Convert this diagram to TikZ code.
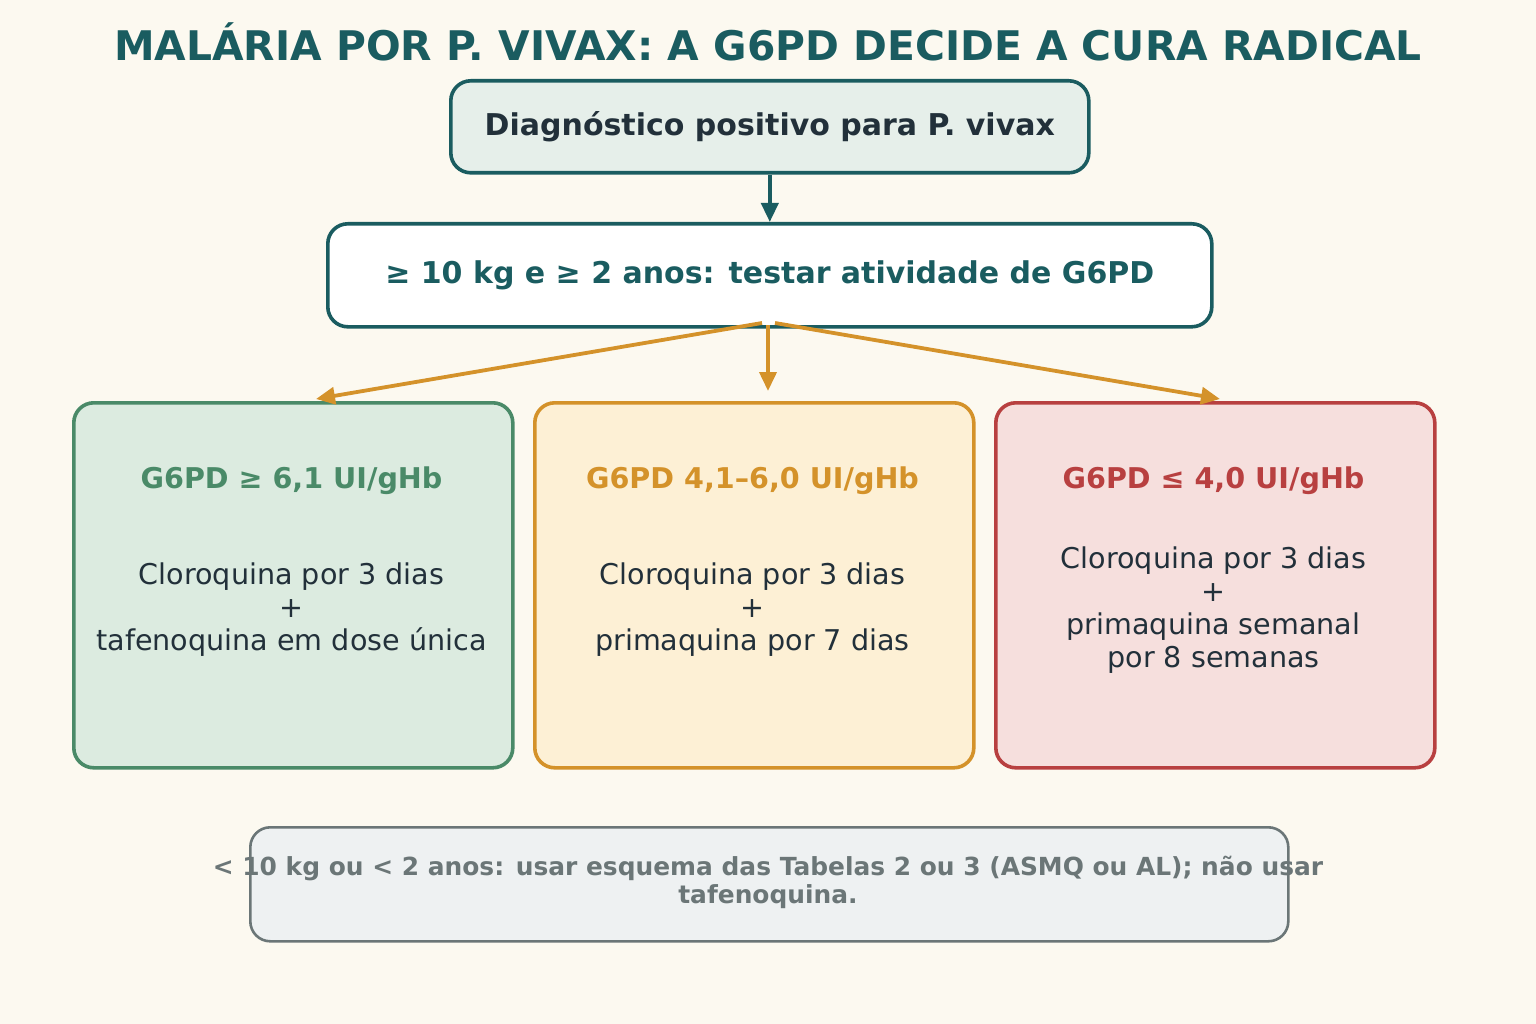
\documentclass[tikz,border=0pt]{standalone}
\usepackage{fontspec}
\setmainfont{DejaVu Sans}
\usetikzlibrary{arrows.meta}
\definecolor{bg}{HTML}{FCF9F0}
\definecolor{teal}{HTML}{1A5C60}
\definecolor{dark}{HTML}{22303A}
\definecolor{orng}{HTML}{D4922A}
\definecolor{grn}{HTML}{4A8A68}
\definecolor{red}{HTML}{B84040}
\definecolor{gry}{HTML}{6B7677}
\definecolor{f1}{HTML}{E6EFEA}
\definecolor{fA}{HTML}{DCEBE0}
\definecolor{fB}{HTML}{FDF0D5}
\definecolor{fC}{HTML}{F6DFDD}
\definecolor{fF}{HTML}{EEF1F2}
\tikzset{
  box/.style={rounded corners=20pt, line width=3.6pt, inner sep=0pt, anchor=north west},
  tarr/.style={line width=3.8pt, -{Triangle[length=19pt,width=17pt]}},
}
\begin{document}
\begin{tikzpicture}[x=1pt,y=-1pt]
\fill[bg] (0,0) rectangle (1536,1024);
\useasboundingbox (0,0) rectangle (1536,1024);
\node[font=\fontsize{40.8}{46}\selectfont\bfseries, text=teal] (title) at (768,42) {MALÁRIA POR P. VIVAX: A G6PD DECIDE A CURA RADICAL};
% box1
\node[box, draw=teal, fill=f1, minimum width=638pt, minimum height=92pt] (b1) at (449,79) {};
\node[font=\fontsize{30}{34}\selectfont\bfseries, text=dark] (t1) at (b1.center) {Diagnóstico positivo para P. vivax};
% box2
\node[box, draw=teal, fill=white, minimum width=884pt, minimum height=103pt] (b2) at (326,222) {};
\node[font=\fontsize{30}{34}\selectfont\bfseries, text=teal] (t2) at (b2.center) {≥ 10 kg e ≥ 2 anos: testar atividade de G6PD};
% three boxes
\node[box, draw=grn, fill=fA, minimum width=439pt, minimum height=365pt] (bA) at (72,401) {};
\node[box, draw=orng, fill=fB, minimum width=439pt, minimum height=365pt] (bB) at (533,401) {};
\node[box, draw=red, fill=fC, minimum width=439pt, minimum height=365pt] (bC) at (994,401) {};
\node[font=\fontsize{28.6}{33}\selectfont\bfseries, text=grn] (hA) at (291.5,481) {G6PD ≥ 6,1 UI/gHb};
\node[font=\fontsize{28.6}{33}\selectfont\bfseries, text=orng] (hB) at (752.5,481) {G6PD 4,1–6,0 UI/gHb};
\node[font=\fontsize{28.6}{33}\selectfont\bfseries, text=red] (hC) at (1213.5,481) {G6PD ≤ 4,0 UI/gHb};
\node[font=\fontsize{28.6}{33}\selectfont, text=dark, align=center] (xA) at (291.5,610) {Cloroquina por 3 dias\\+\\tafenoquina em dose única};
\node[font=\fontsize{28.6}{33}\selectfont, text=dark, align=center] (xB) at (752.5,610) {Cloroquina por 3 dias\\+\\primaquina por 7 dias};
\node[font=\fontsize{28.6}{33}\selectfont, text=dark, align=center] (xC) at (1213.5,610) {Cloroquina por 3 dias\\+\\primaquina semanal\\por 8 semanas};
% footer
\node[box, draw=gry, fill=fF, line width=2.6pt, minimum width=1038pt, minimum height=114pt] (bF) at (249,826) {};
\node[font=\fontsize{24.9}{28}\selectfont\bfseries, text=gry, align=center] (tF) at (768,882) {< 10 kg ou < 2 anos: usar esquema das Tabelas 2 ou 3 (ASMQ ou AL); não usar\\tafenoquina.};
% arrows
\coordinate (o1) at (762,323);
\coordinate (o2) at (768,325);
\coordinate (o3) at (775,323);
\coordinate (eA) at (316,399);
\coordinate (eB) at (768,391);
\coordinate (eC) at (1220,399);
\draw[tarr, draw=teal, fill=teal] (b1.south) -- (b2.north);
\draw[tarr, draw=orng, fill=orng] (o1) -- (eA);
\draw[tarr, draw=orng, fill=orng] (o2) -- (eB);
\draw[tarr, draw=orng, fill=orng] (o3) -- (eC);
\end{tikzpicture}
\end{document}
